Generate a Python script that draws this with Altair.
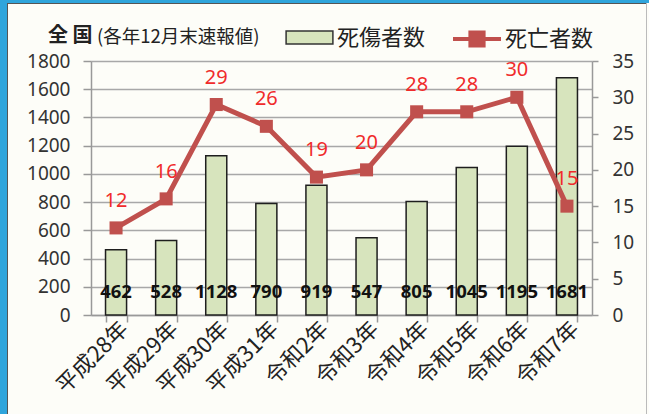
import altair as alt
import pandas as pd

categories = ["平成28年", "平成29年", "平成30年", "平成31年", "令和2年",
              "令和3年", "令和4年", "令和5年", "令和6年", "令和7年"]
casualties = [462, 528, 1128, 790, 919, 547, 805, 1045, 1195, 1681]
deaths = [12, 16, 29, 26, 19, 20, 28, 28, 30, 15]
left_ticks = [0, 200, 400, 600, 800, 1000, 1200, 1400, 1600, 1800]
right_ticks = [0, 5, 10, 15, 20, 25, 30, 35]
series_bar = "死傷者数"
series_line = "死亡者数"
title_main = "全 国"
title_sub = "(各年12月末速報値)"

CJK = "Noto Sans CJK JP"
NUM = "Noto Sans"

df = pd.DataFrame({
    "year": categories,
    "casualties": casualties,
    "deaths": deaths,
    "s1": series_bar,
    "s2": series_line,
})
one = pd.DataFrame({"main": [title_main], "sub": [title_sub]})

W, H = 501, 254

x = alt.X(
    "year:N", sort=categories,
    scale=alt.Scale(paddingInner=0.58, paddingOuter=0.29),
    axis=alt.Axis(title=None, labelAngle=-45, labelAlign="right", labelBaseline="middle",
                  labelFontSize=22, labelFont=CJK, labelColor="#222",
                  tickBand="extent", tickSize=7, tickColor="#999", tickWidth=1.5,
                  domainColor="#999", domainWidth=1.5, labelPadding=3, labelOffset=8,
                  labelOverlap=False),
)

yleft_scale = alt.Scale(domain=[0, 1800], nice=False)
yright_scale = alt.Scale(domain=[0, 35], nice=False)

left_axis = alt.Axis(values=left_ticks, orient="left", title=None, grid=True,
                     gridColor="#a8a8a8", gridWidth=1.5, tickSize=8, tickColor="#999",
                     tickWidth=1.5, domainColor="#999", domainWidth=1.5, format="d",
                     labelOverlap=False, labelFontSize=19, labelColor="#333",
                     labelPadding=13, labelFont=NUM)
right_axis = alt.Axis(values=right_ticks, orient="right", title=None, grid=False,
                      tickSize=6, tickColor="#999", tickWidth=1.5, format="d",
                      domainColor="#999", domainWidth=1.5, labelOverlap=False,
                      labelFontSize=19, labelColor="#333", labelPadding=14, labelFont=NUM)

bars = alt.Chart(df).mark_bar(stroke="#1e1e1e", strokeWidth=1.5).encode(
    x=x,
    y=alt.Y("casualties:Q", scale=yleft_scale, axis=left_axis),
    fill=alt.Fill("s1:N", scale=alt.Scale(domain=[series_bar], range=["#d7e4bd"]),
                  legend=alt.Legend(orient="none", legendX=204.5, legendY=-37.5, title=None,
                                    symbolType="M-1.8,-0.5H1.8V0.5H-1.8Z", symbolSize=676,
                                    symbolStrokeColor="#333", symbolStrokeWidth=1.5,
                                    labelFontSize=22, labelFont=CJK, labelColor="#222",
                                    labelOffset=13.5, padding=0)),
)

bar_labels = alt.Chart(df).mark_text(fontWeight="bold", fontSize=18.5, color="#111",
                                     font=NUM, baseline="middle").encode(
    x=x,
    y=alt.YDatum(160, scale=yleft_scale, axis=left_axis),
    text="casualties:Q",
)

left = alt.layer(bars, bar_labels)

line = alt.Chart(df).mark_line(
    strokeWidth=5,
    point=alt.OverlayMarkDef(shape="square", size=170, filled=True, opacity=1),
).encode(
    x=x,
    y=alt.Y("deaths:Q", scale=yright_scale, axis=right_axis),
    color=alt.Color("s2:N", scale=alt.Scale(domain=[series_line], range=["#c0504d"]),
                    legend=alt.Legend(orient="none", legendX=372, legendY=-36, title=None,
                                      symbolType="M-2,0H2M-0.55,-0.55H0.55V0.55H-0.55Z",
                                      symbolSize=576, symbolStrokeWidth=4,
                                      symbolFillColor="#c0504d",
                                      labelFontSize=22, labelFont=CJK, labelColor="#222",
                                      labelOffset=14, padding=0)),
)

line_labels = alt.Chart(df).mark_text(dy=-27, fontSize=20, color="#f02b2b", font=NUM,
                                      baseline="middle").encode(
    x=x,
    y=alt.Y("deaths:Q", scale=yright_scale, axis=right_axis),
    text="deaths:Q",
)

right = alt.layer(line, line_labels)

title1 = alt.Chart(one).mark_text(fontSize=20, fontWeight="bold", font=CJK, color="#222",
                                  align="left", baseline="middle").encode(
    x=alt.value(-43), y=alt.value(-25), text="main:N")
title2 = alt.Chart(one).mark_text(fontSize=18.5, font=CJK, color="#222",
                                  align="left", baseline="middle").encode(
    x=alt.value(6), y=alt.value(-24), text="sub:N")

frame_left = alt.Chart(one).mark_rule(color="#2fa5dc", strokeWidth=7).encode(
    x=alt.value(-87.5), y=alt.value(-61), y2=alt.value(353))
frame_top = alt.Chart(one).mark_rule(color="#2fa5dc", strokeWidth=3).encode(
    y=alt.value(-59.5), x=alt.value(-91), x2=alt.value(558))
frame_inner = alt.Chart(one).mark_rule(color="#555", strokeWidth=1).encode(
    x=alt.value(-83.5), y=alt.value(-58), y2=alt.value(353))
frame_inner_top = alt.Chart(one).mark_rule(color="#555", strokeWidth=1).encode(
    y=alt.value(-57.5), x=alt.value(-84), x2=alt.value(556))
frame_right = alt.Chart(one).mark_rule(color="#bbb", strokeWidth=1).encode(
    x=alt.value(555.5), y=alt.value(-58), y2=alt.value(353))

chart = alt.layer(
    left, right, title1, title2,
    frame_left, frame_top, frame_inner, frame_inner_top, frame_right,
).resolve_scale(
    y="independent"
).properties(
    width=W, height=H,
    autosize=alt.AutoSizeParams(type="none"),
    padding={"left": 91, "top": 61, "right": 57, "bottom": 99},
    background="#fdfdf8",
).configure_view(stroke=None)

chart.save("out.html", embed_options={"renderer": "svg", "actions": False})
